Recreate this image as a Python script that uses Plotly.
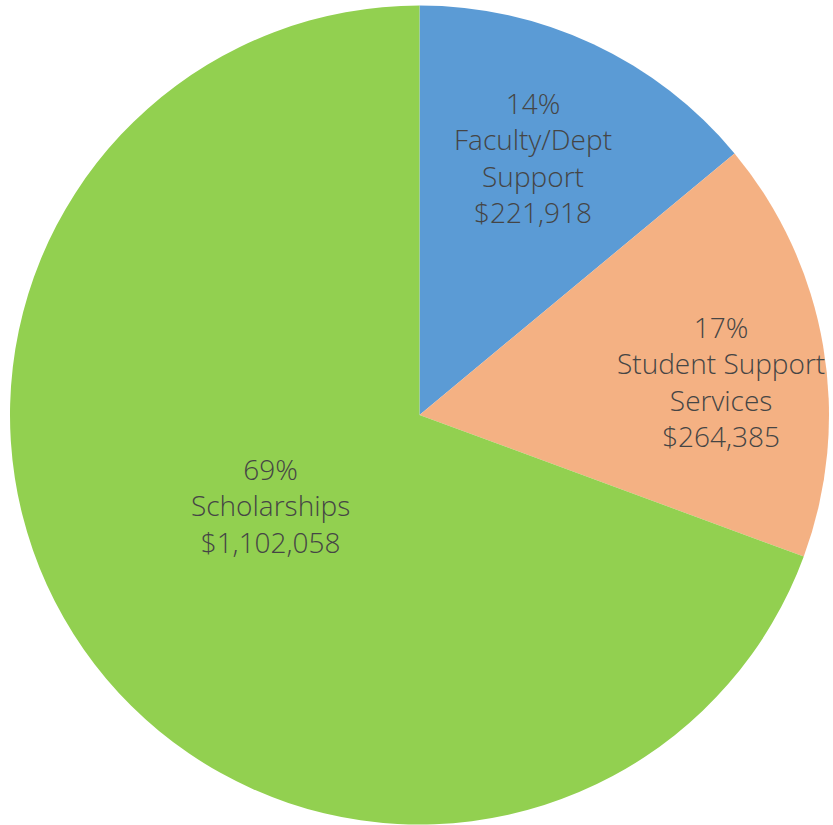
import math
import plotly.graph_objects as go

labels = ["Faculty/Dept<br>Support", "Student Support<br>Services", "Scholarships"]
values = [221918, 264385, 1102058]
colors = ["#5B9BD5", "#F4B183", "#92D050"]

# label placement (style): radial fraction and angular nudge (deg) per slice
label_radius = [0.686, 0.742, 0.427]
label_nudge = [-1.4, 3.4, 3.6]

W, H = 833, 825
ml, mr, mt, mb = 10, 4, 5, 0

fig = go.Figure(go.Pie(
    labels=labels,
    values=values,
    sort=False,
    direction="clockwise",
    rotation=0,
    marker=dict(colors=colors, line=dict(width=0)),
    textinfo="none",
    hoverinfo="label+value+percent",
    showlegend=False,
))

# compute label positions from slice mid-angles
pw, ph = W - ml - mr, H - mt - mb
r = min(pw, ph) / 2
cx, cy = pw / 2, ph / 2
total = sum(values)
start = 0.0
for lab, v, fr, nd in zip(labels, values, label_radius, label_nudge):
    span = v / total * 360
    mid = math.radians(start + span / 2 + nd)
    start += span
    px = cx + fr * r * math.sin(mid)
    py = cy - fr * r * math.cos(mid)
    pct = round(v / total * 100)
    fig.add_annotation(
        x=px / pw, y=1 - py / ph, xref="paper", yref="paper",
        text=f"{pct}%<br>{lab}<br>${v:,}",
        showarrow=False, xanchor="center", yanchor="middle", align="center",
        font=dict(family="Open Sans, Lato, sans-serif", size=28, color="#454545", weight=300),
    )

fig.update_layout(
    width=W, height=H,
    margin=dict(l=ml, r=mr, t=mt, b=mb),
    paper_bgcolor="white",
    plot_bgcolor="white",
)

fig.write_html("out.html", config={"displayModeBar": False},
               post_script="document.body.style.margin='0';")
